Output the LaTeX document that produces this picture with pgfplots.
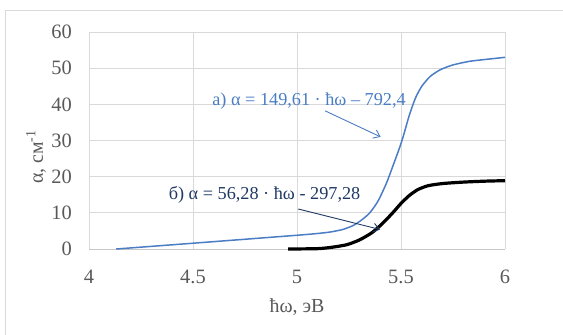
\documentclass[border=0pt]{standalone}
\usepackage{fontspec}
\setmainfont{Liberation Serif}
\usepackage{pgfplots}
\pgfplotsset{compat=1.18}
\usetikzlibrary{arrows.meta}
\definecolor{lblue}{HTML}{4A7DC4}
\definecolor{navy}{HTML}{1F3864}
\definecolor{tickgray}{HTML}{595959}
\definecolor{gridgray}{HTML}{D9D9D9}
\definecolor{axisgray}{HTML}{C8C8C8}
\definecolor{framegray}{HTML}{D9D9D9}
\begin{document}
\begin{tikzpicture}[x=1bp,y=1bp]
\path[use as bounding box] (-89,-85) rectangle (474,249);
\draw[framegray,line width=0.75bp] (-84,-100) rectangle (490,239);
\begin{axis}[
  at={(0,0)}, anchor=south west,
  scale only axis, width=416bp, height=217bp,
  xmin=4, xmax=6, ymin=0, ymax=60,
  xtick={4,4.5,5,5.5,6}, xticklabels={4,4.5,5,5.5,6},
  ytick={0,10,20,30,40,50,60},
  grid=major, grid style={gridgray,line width=0.75bp},
  axis line style={draw=none},
  major tick length=0pt,
  tick label style={font=\fontsize{20.5}{22}\selectfont, text=tickgray, inner sep=0pt},
  /pgf/number format/assume math mode=true,
  xticklabel style={anchor=base, yshift=-34bp},
  yticklabel style={anchor=east, xshift=-17bp},
  xlabel={ħω, эВ}, ylabel={α, см\textsuperscript{-1}},
  label style={font=\fontsize{20}{22}\selectfont, text=tickgray, inner sep=0pt},
  xlabel style={at={(axis description cs:0.5,-0.2903)}, anchor=base},
  ylabel style={at={(axis description cs:-0.1106,0.424)}, anchor=base},
  clip=false,
]
\draw[axisgray, line width=0.9bp] (axis cs:4,0) -- (axis cs:6,0);
\addplot[lblue, line width=1.5bp, smooth, tension=0.4] coordinates {
(4.131,0) (4.5,1.6) (5.0,3.8) (5.1,4.3) (5.16,4.7) (5.22,5.4) (5.27,6.5) (5.31,8.0) (5.35,10.0) (5.39,13.3) (5.43,18.2) (5.46,22.8) (5.49,27.5) (5.51,31) (5.54,37) (5.57,41.8) (5.6,45) (5.64,47.7) (5.69,49.6) (5.75,50.9) (5.83,51.9) (5.92,52.5) (6,53)
};
\addplot[black, line width=3.2bp, smooth, tension=0.4] coordinates {
(4.957,0) (5.1,0.1) (5.17,0.5) (5.24,1.2) (5.3,2.5) (5.36,4.5) (5.41,7.0) (5.46,10.0) (5.5,12.6) (5.54,14.8) (5.58,16.4) (5.63,17.5) (5.7,18.1) (5.8,18.5) (5.9,18.75) (6,18.9)
};
\node[lblue, font=\fontsize{18.3}{20}\selectfont, inner sep=0pt] at (axis cs:5.058,40.9) {а) α = 149,61 · ħω – 792,4};
\draw[lblue, line width=0.9bp, -{Straight Barb[length=6bp,width=9bp]}] (axis cs:5.135,38.2) -- (axis cs:5.402,31.0);
\node[navy, font=\fontsize{18.3}{20}\selectfont, inner sep=0pt] at (axis cs:4.844,14.9) {б) α = 56,28 · ħω - 297,28};
\draw[navy, line width=0.9bp, -{Straight Barb[length=6bp,width=9bp]}] (axis cs:5.006,11.06) -- (axis cs:5.399,5.4);
\end{axis}
\end{tikzpicture}
\end{document}
